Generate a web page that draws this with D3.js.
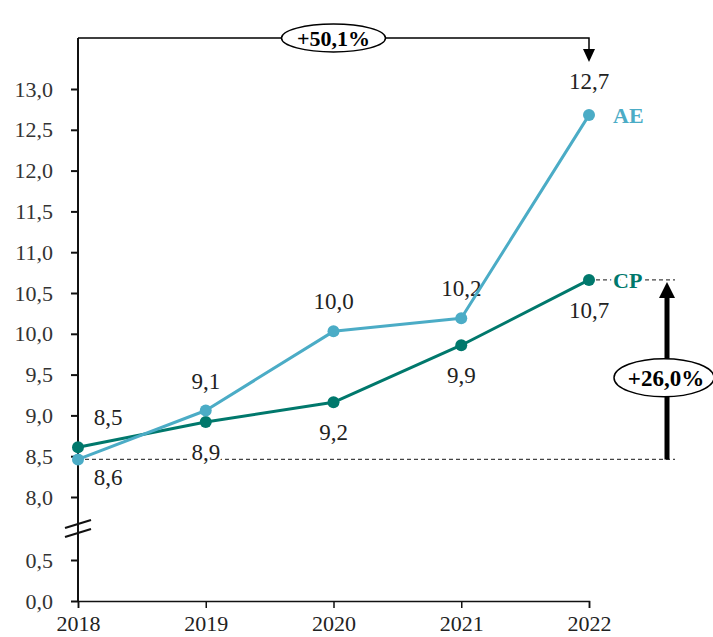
<!DOCTYPE html>
<html>
<head>
<meta charset="utf-8">
<script src="https://cdn.jsdelivr.net/npm/d3@7"></script>
<style>
  html, body { margin: 0; padding: 0; background: #fff; }
  svg { display: block; font-family: "Liberation Serif", "Times New Roman", serif; }
</style>
</head>
<body>
<svg id="chart" width="713" height="637"></svg>
<script>
// Series values (index per year)
const years = [2018, 2019, 2020, 2021, 2022];
const ae = [8.46, 9.06, 10.03, 10.19, 12.68];
const cp = [8.61, 8.92, 9.16, 9.86, 10.66];
const yTicks = [0, 0.5, 8, 8.5, 9, 9.5, 10, 10.5, 11, 11.5, 12, 12.5, 13];
const growthLabels = ["+50,1%", "+26,0%"];

const colors = { AE: "#4BACC6", CP: "#00786C" };

const locale = d3.formatLocale({ decimal: ",", thousands: ".", grouping: [3], currency: ["", "€"] });
const fmt = locale.format(".1f");

const svg = d3.select("#chart");

const x = d3.scaleLinear().domain([2018, 2022]).range([78, 589]);
// Broken axis: 0–0,5 at the bottom, 8,0–13,0 above the break
const y = d3.scaleLinear().domain([0, 0.5, 8, 13]).range([601, 560, 497, 89]);

const axisColor = "#111";
const labelColor = "#222";

// Y axis
const gy = svg.append("g")
  .attr("transform", `translate(${x(2018)},0)`)
  .call(d3.axisLeft(y).tickValues(yTicks).tickSize(7).tickPadding(18).tickFormat(fmt));
gy.select(".domain").remove();
gy.selectAll(".tick line").attr("stroke", axisColor).attr("stroke-width", 2);
gy.selectAll(".tick text").attr("font-size", 22).attr("fill", "#333")
  .attr("font-family", "Liberation Serif, serif");

// X axis
const gx = svg.append("g")
  .attr("transform", `translate(0,${y(0)})`)
  .call(d3.axisBottom(x).tickValues(years).tickSize(7).tickPadding(7).tickFormat(d3.format("d")));
gx.select(".domain").attr("stroke", axisColor).attr("stroke-width", 1.5);
gx.selectAll(".tick line").attr("stroke", axisColor).attr("stroke-width", 1.5);
gx.selectAll(".tick text").attr("font-size", 22).attr("fill", "#222")
  .attr("font-family", "Liberation Serif, serif");

// Vertical axis line, extended up into the top bracket
const bracketY = 38;
svg.append("line")
  .attr("x1", x(2018)).attr("x2", x(2018))
  .attr("y1", y(0)).attr("y2", bracketY)
  .attr("stroke", axisColor).attr("stroke-width", 2);

// Axis break marks
const breakY = (y(0.5) + y(8)) / 2;
[-4.5, 4.5].forEach(off => {
  svg.append("line")
    .attr("x1", x(2018) - 13).attr("y1", breakY + off + 4)
    .attr("x2", x(2018) + 13).attr("y2", breakY + off - 4)
    .attr("stroke", "#111").attr("stroke-width", 2);
});

// Reference dashed lines
const refRight = 675;
svg.append("line")
  .attr("x1", x(2018)).attr("x2", refRight)
  .attr("y1", y(ae[0])).attr("y2", y(ae[0]))
  .attr("stroke", "#444").attr("stroke-width", 1.2).attr("stroke-dasharray", "4,3");
svg.append("line")
  .attr("x1", x(2022)).attr("x2", refRight)
  .attr("y1", y(cp[4])).attr("y2", y(cp[4]))
  .attr("stroke", "#444").attr("stroke-width", 1.2).attr("stroke-dasharray", "4,3");

// Data labels: AE above its points, CP below; first year nudged right
const labelOffset = 30;
function addLabels(values, dir) {
  svg.append("g").selectAll("text")
    .data(values)
    .join("text")
    .attr("x", (d, i) => x(years[i]) + (i === 0 ? 30 : 0))
    .attr("y", (d, i) => y(values === ae && i === 0 ? cp[0] : d) + dir * labelOffset - (dir < 0 && i === values.length - 1 ? 4 : 0))
    .attr("dy", "0.35em")
    .attr("text-anchor", "middle")
    .attr("font-size", 23)
    .attr("fill", labelColor)
    .attr("stroke", "#fff").attr("stroke-width", 6).attr("paint-order", "stroke")
    .text(d => fmt(d));
}
addLabels(ae, -1);
addLabels(cp, 1);

// Lines and points
const line = d3.line().x((d, i) => x(years[i])).y(d => y(d));
[["CP", cp], ["AE", ae]].forEach(([name, vals]) => {
  svg.append("path")
    .attr("d", line(vals))
    .attr("fill", "none")
    .attr("stroke", colors[name])
    .attr("stroke-width", 3)
    .attr("stroke-linejoin", "round");
  svg.append("g").selectAll("circle")
    .data(vals)
    .join("circle")
    .attr("cx", (d, i) => x(years[i]))
    .attr("cy", d => y(d))
    .attr("r", 6)
    .attr("fill", colors[name]);
});

// Series names at the end of each line
[["AE", ae], ["CP", cp]].forEach(([name, vals]) => {
  svg.append("text")
    .attr("x", x(2022) + 24)
    .attr("y", y(vals[vals.length - 1]))
    .attr("dy", "0.35em")
    .attr("font-size", 22)
    .attr("font-weight", "bold")
    .attr("fill", colors[name])
    .attr("stroke", "#fff").attr("stroke-width", 6).attr("paint-order", "stroke")
    .text(name);
});

// Top bracket: growth of AE between first and last year
svg.append("path")
  .attr("d", `M${x(2018)},${bracketY} H${x(2022)} V${bracketY + 12}`)
  .attr("fill", "none").attr("stroke", "#000").attr("stroke-width", 1.5);
svg.append("path")
  .attr("d", `M${x(2022) - 6},${bracketY + 11} L${x(2022) + 6},${bracketY + 11} L${x(2022)},${bracketY + 24} Z`)
  .attr("fill", "#000");
const e1x = (x(2019) + x(2021)) / 2;
svg.append("ellipse")
  .attr("cx", e1x).attr("cy", bracketY).attr("rx", 52).attr("ry", 14)
  .attr("fill", "#fff").attr("stroke", "#000").attr("stroke-width", 1.5);
svg.append("text")
  .attr("x", e1x).attr("y", bracketY).attr("dy", "0.35em")
  .attr("text-anchor", "middle").attr("font-size", 22).attr("font-weight", "bold")
  .attr("fill", "#000").text(growthLabels[0]);

// Right arrow: growth of CP against the first-year reference level
const arrowX = 667;
const yTop = y(cp[4]) + 2;
const yBot = y(ae[0]);
svg.append("line")
  .attr("x1", arrowX).attr("x2", arrowX)
  .attr("y1", yBot).attr("y2", yTop + 14)
  .attr("stroke", "#000").attr("stroke-width", 5);
svg.append("path")
  .attr("d", `M${arrowX - 8},${yTop + 16} L${arrowX + 8},${yTop + 16} L${arrowX},${yTop} Z`)
  .attr("fill", "#000");
const e2y = (yTop + yBot) / 2 + 7;
svg.append("ellipse")
  .attr("cx", arrowX - 3).attr("cy", e2y).attr("rx", 50).attr("ry", 19)
  .attr("fill", "#fff").attr("stroke", "#000").attr("stroke-width", 1.5);
svg.append("text")
  .attr("x", arrowX - 1).attr("y", e2y).attr("dy", "0.35em")
  .attr("text-anchor", "middle").attr("font-size", 23).attr("font-weight", "bold")
  .attr("fill", "#000").text(growthLabels[1]);
</script>
</body>
</html>
